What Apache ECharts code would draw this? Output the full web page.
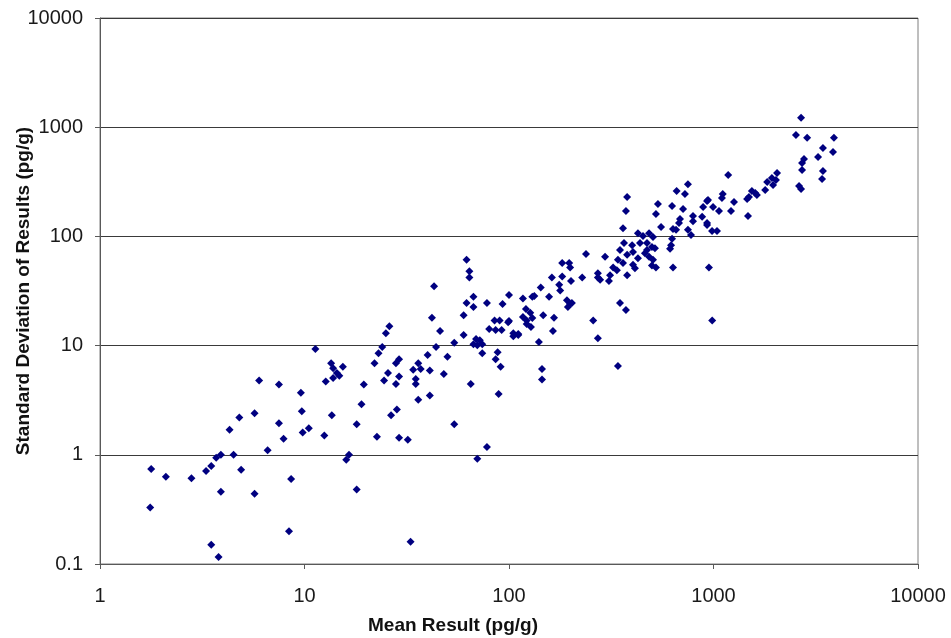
<!DOCTYPE html>
<html>
<head>
<meta charset="utf-8">
<script src="https://cdn.jsdelivr.net/npm/echarts@6/dist/echarts.min.js"></script>
<style>
  html, body { margin: 0; padding: 0; background: #fff; }
  #chart { width: 951px; height: 638px; }
</style>
</head>
<body>
<div id="chart"></div>
<script>
// 读图得到的数值 (对数坐标)
var meanResult = [
  6.0, 7.5, 9.6, 4.8, 5.7, 7.5, 9.7, 4.3, 7.9, 9.8, 10.5, 6.6, 3.9, 3.7, 4.5, 3.5, 3.3, 1.78, 2.1, 2.8,
  4.9, 8.6, 3.9, 5.7, 1.76, 8.4, 3.5, 3.8,
  62, 64, 64, 43, 67, 62, 67, 78, 93, 100, 60, 42, 26, 25, 46, 60, 54, 44, 69, 72, 74, 70,
  67, 74, 85, 90, 100, 80, 86, 92, 105, 111, 88, 86, 91, 89, 65, 54, 78, 70, 11.3, 24,
  23, 13.5, 15.4, 13.8, 14.4, 14.8, 13.8, 12.7, 22, 29, 28, 36, 40, 50, 37, 34, 41, 25.6, 48, 29,
  24.5, 35, 35, 28, 19.5, 41, 36, 19, 28.3, 26.5, 13.6, 18, 12.5, 22.6, 29, 32, 16.5, 16, 18, 33,
  750, 660, 725, 378, 373, 535, 627, 710, 523, 930, 890, 995, 794, 880, 686, 678, 794, 930, 554, 634,
  656, 750, 776, 984, 1040, 361, 427, 452, 484, 506, 627, 620, 613, 365, 400, 437, 473, 500, 517, 349,
  378, 427, 462, 484, 506, 500, 523, 634, 950, 238, 295, 341, 361, 404, 413, 323, 337, 378, 272, 312,
  279, 308, 182, 197, 199, 228, 201, 182, 162, 176, 178, 143, 157, 130, 133, 117, 192, 199, 194, 203,
  121, 127, 147, 166, 117, 122, 130, 122, 128, 99, 105, 111, 164, 140, 258, 272, 349, 373, 985, 341,
  145, 145, 473, 404, 272,
  2680, 2530, 2870, 3880, 3430, 3840, 3245, 2770, 2710, 2710, 3430, 3395, 2620, 2680, 1180, 2045, 2020, 1930, 1830, 1955,
  1790, 1600, 1540, 1630, 1460, 1490, 1110, 1100, 1260, 940, 1064, 1218, 1475, 930
];
var stdDev = [
  4.8, 4.4, 3.7, 2.2, 2.4, 1.95, 2.5, 1.7, 1.4, 1.6, 1.75, 1.1, 1.0, 0.94, 1.0, 0.79, 0.71, 0.74, 0.63, 0.61,
  0.73, 0.6, 0.46, 0.44, 0.33, 0.2, 0.15, 0.116,
  61, 48, 42, 35, 28, 24.5, 22.6, 24.5, 24, 29, 19, 18, 15, 13, 13.6, 12.5, 10.6, 9.7, 11.5, 11.2,
  10.3, 10.1, 10.3, 8.5, 17, 17, 16.8, 14.2, 13.9, 13.9, 12.2, 12.5, 8.7, 7.5, 6.4, 3.6, 4.45, 1.9, 1.18, 0.92,
  9.3, 9.7, 8.5, 6.9, 6.4, 6.2, 5.6, 5.3, 5.05, 4.7, 6.9, 7.5, 6.9, 6.9, 8.2, 7.9, 6.1, 6.0, 5.9, 5.6,
  5.5, 5.2, 4.8, 4.95, 4.45, 4.45, 4.4, 3.5, 3.2, 2.9, 2.6, 2.3, 2.3, 1.9, 1.5, 1.46, 1.43, 1.37, 1.0, 0.9,
  0.48, 0.16,
  300, 260, 245, 230, 171, 198, 190, 178, 160, 211, 186, 186, 154, 151, 144, 133, 138, 133, 122, 117,
  115, 115, 103, 112, 112, 119, 107, 101, 107, 99, 95, 83, 77, 87, 83, 87, 87, 80, 78, 75,
  68, 63, 70, 65, 61, 54, 52, 52, 52, 69, 65, 61, 57, 55, 51, 52, 49, 44, 46, 44,
  40, 39, 57, 57, 52, 42, 39, 43, 42, 36, 32, 34, 28, 28, 28.5, 27, 26, 24, 22.6, 24.5,
  21.6, 20, 19, 18, 18.3, 17, 17.9, 15.8, 14.8, 16.4, 13, 12.8, 13.6, 10.8, 17, 11.7, 24.5, 21.2, 17, 6.5,
  6.1, 4.9, 75, 72, 42,
  1220, 850, 800, 800, 645, 593, 533, 512, 470, 406, 397, 336, 290, 272, 365, 381, 329, 343, 315, 296,
  266, 250, 260, 239, 220, 230, 245, 225, 207, 215, 171, 171, 154, 127
];
var xTicks = [1, 10, 100, 1000, 10000];
var yTicks = [0.1, 1, 10, 100, 1000, 10000];

var points = [];
for (var i = 0; i < meanResult.length; i++) {
  points.push([meanResult[i], stdDev[i]]);
}

var chart = echarts.init(document.getElementById('chart'));
var font = 'Arial, "Liberation Sans", sans-serif';
var plain = function (v) { return String(v); };

chart.setOption({
  animation: false,
  backgroundColor: '#fff',
  grid: {
    left: 100, right: 33, top: 18, bottom: 74,
    outerBoundsMode: 'none',
    containLabel: false,
    show: true, borderColor: '#7f7f7f', borderWidth: 1
  },
  xAxis: {
    type: 'log', logBase: 10,
    min: xTicks[0], max: xTicks[xTicks.length - 1],
    name: 'Mean Result (pg/g)',
    nameLocation: 'middle', nameGap: 52, nameMoveOverlap: false,
    nameTextStyle: {
      fontFamily: font, fontWeight: 'bold', fontSize: 19, color: '#111',
      padding: [0, 112, 0, 0]
    },
    axisLine: { lineStyle: { color: '#595959', width: 1 } },
    axisTick: { show: true, inside: false, length: 5, lineStyle: { color: '#595959' } },
    axisLabel: { fontFamily: font, fontSize: 20, color: '#1a1a1a', margin: 22, formatter: plain },
    splitLine: { show: false },
    minorTick: { show: false }
  },
  yAxis: {
    type: 'log', logBase: 10,
    min: yTicks[0], max: yTicks[yTicks.length - 1],
    name: 'Standard Deviation of Results (pg/g)',
    nameLocation: 'middle', nameGap: 67, nameRotate: 90, nameMoveOverlap: false,
    nameTextStyle: { fontFamily: font, fontWeight: 'bold', fontSize: 19, color: '#111' },
    axisLine: { lineStyle: { color: '#595959', width: 1 } },
    axisTick: { show: true, inside: false, length: 5, lineStyle: { color: '#595959' } },
    axisLabel: { fontFamily: font, fontSize: 20, color: '#1a1a1a', margin: 17, formatter: plain },
    splitLine: { show: true, lineStyle: { color: '#3a3a3a', width: 1 } }
  },
  series: [{
    type: 'scatter',
    symbol: 'diamond',
    symbolSize: 8,
    itemStyle: { color: '#000080', opacity: 1 },
    data: points
  }]
});
</script>
</body>
</html>
